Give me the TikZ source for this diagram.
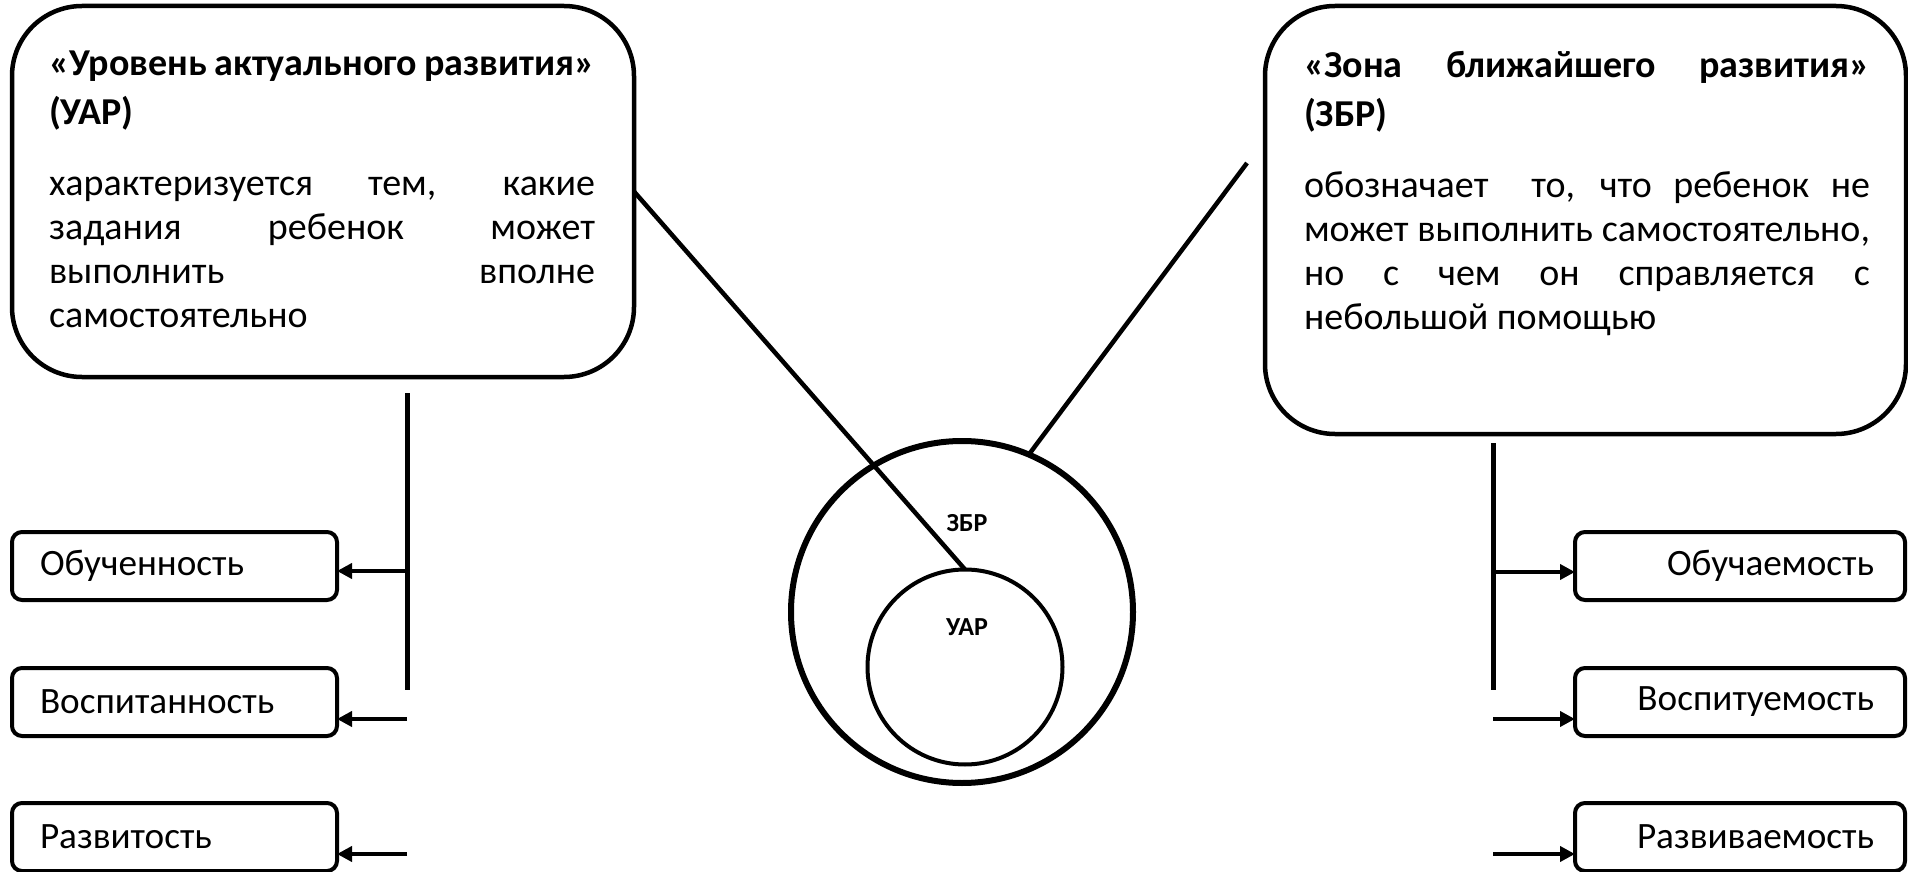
\documentclass[tikz,border=0pt]{standalone}
\usepackage{fontspec}
\setmainfont{Carlito}
\usetikzlibrary{arrows.meta}
\hyphenpenalty=10000
\begin{document}
\begin{tikzpicture}[x=0.5pt,y=-0.5pt,inner sep=0pt,outer sep=0pt,
bigbox/.style={draw,rectangle,rounded corners=35pt,line width=2.25pt},
bigtext/.style={anchor=north west,align=justify,font=\fontsize{19}{22}\selectfont},
smallbox/.style={draw,rectangle,rounded corners=5pt,line width=2pt,minimum height=34pt,inner xsep=14pt,font=\fontsize{18.6}{22}\selectfont},
circlabel/.style={font=\fontsize{13}{15}\selectfont\bfseries},
arr/.style={-{Triangle[length=7.5pt,width=7.5pt]},line width=2pt}]
\useasboundingbox (0,0) rectangle (1908,872);
\draw (323,191.5) node[bigbox,minimum width=311pt,minimum height=185.5pt] (uarbox) {};
\draw (49,51) node[bigtext,text width=273pt] (uartext) {{\bfseries\setlength\baselineskip{24.5pt}«Уровень актуального развития»\linebreak (УАР)\par}\vspace{13.5pt}
характеризуется тем, какие\linebreak задания ребенок может\linebreak выполнить вполне\linebreak самостоятельно};
\draw (1585.5,220) node[bigbox,minimum width=320.5pt,minimum height=214pt] (zbrbox) {};
\draw (1304,51) node[bigtext,text width=283pt] (zbrtext) {{\bfseries\setlength\baselineskip{24.5pt}«Зона ближайшего развития»\linebreak (ЗБР)\par}\vspace{13.5pt}
обозначает\ \ то, что ребенок не\linebreak может выполнить самостоятельно,\linebreak но с чем он справляется с\linebreak небольшой помощью};
\draw (962,612) node[draw,circle,line width=3pt,minimum size=171pt] (zbrcirc) {};
\draw (965,667) node[draw,circle,line width=2pt,minimum size=97.5pt] (uarcirc) {};
\draw (967,523) node[circlabel] (zbrlabel) {ЗБР};
\draw (967,627) node[circlabel] (uarlabel) {УАР};
\draw (174.5,566) node[smallbox,text width=134.5pt,align=left] (obuch) {Обученность};
\draw (174.5,702) node[smallbox,text width=134.5pt,align=left] (vospit) {Воспитанность};
\draw (174.5,837) node[smallbox,text width=134.5pt,align=left] (razvit) {Развитость};
\draw (1740,566) node[smallbox,text width=134pt,inner xsep=15.5pt,align=right] (obuchaem) {Обучаемость};
\draw (1740,702) node[smallbox,text width=134pt,inner xsep=15.5pt,align=right] (vospituem) {Воспитуемость};
\draw (1740,837) node[smallbox,text width=134pt,inner xsep=15.5pt,align=right] (razvivaem) {Развиваемость};
\coordinate (zbrend) at (1247,163);
\coordinate (ltop) at (407,393);
\coordinate (lbot) at (407,690);
\coordinate (la2) at (407,719);
\coordinate (la3) at (407,854);
\coordinate (rtop) at (1493,443);
\coordinate (rbot) at (1493,690);
\coordinate (ra2) at (1493,719);
\coordinate (ra3) at (1493,854);
\draw[line width=2.25pt] (uarbox.east) -- (uarcirc.north);
\draw[line width=2.25pt] (zbrend) -- (zbrcirc.67);
\draw[line width=2.5pt] (ltop) -- (lbot);
\draw[arr] (ltop |- 0,571) -- (obuch.east |- 0,571);
\draw[arr] (la2) -- (la2 -| vospit.east);
\draw[arr] (la3) -- (la3 -| razvit.east);
\draw[line width=2.5pt] (rtop) -- (rbot);
\draw[arr] (rtop |- 0,572) -- (obuchaem.west |- 0,572);
\draw[arr] (ra2) -- (ra2 -| vospituem.west);
\draw[arr] (ra3) -- (ra3 -| razvivaem.west);
\end{tikzpicture}
\end{document}
